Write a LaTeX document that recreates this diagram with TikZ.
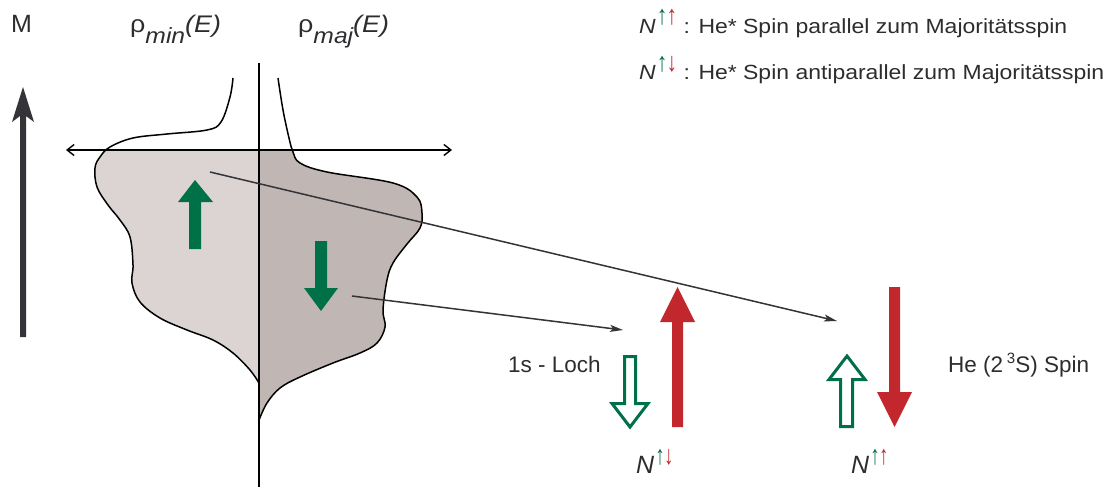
\documentclass[tikz,border=0pt]{standalone}
\usepackage{fontspec}
\usepackage{graphicx}
\setmainfont{Liberation Sans}
\newfontfamily\widefont[FakeStretch=1.12]{Liberation Sans}
\usetikzlibrary{arrows.meta}
\definecolor{spingreen}{RGB}{0,112,72}
\definecolor{spinred}{RGB}{193,39,45}
\definecolor{darkgray}{RGB}{51,51,56}
\definecolor{txtgray}{RGB}{45,45,48}
\definecolor{fillA}{RGB}{219,212,210}
\definecolor{fillB}{RGB}{192,183,180}
\newcommand{\spinsup}[2]{\kern1pt\raisebox{9pt}{\scalebox{0.7}[1]{\fontsize{27}{27}\selectfont\textcolor{spingreen}{#1}\kern-1pt\textcolor{spinred}{#2}}}}
\tikzset{
  curve/.style={line width=1.5pt, draw={RGB:red,35;green,31;blue,32}},
  axisline/.style={line width=1.4pt, draw={RGB:red,35;green,31;blue,32}},
  conn/.style={line width=1.5pt, draw=darkgray, -{Stealth[length=13pt,width=7pt,inset=3pt]}},
  greensolid/.style={fill=spingreen, draw=none},
  greenhollow/.style={fill=white, draw=spingreen, line width=3pt, line join=miter},
  redsolid/.style={fill=spinred, draw=none},
  lbl/.style={anchor=base west, inner sep=0pt, text=txtgray},
}
\begin{document}
\begin{tikzpicture}[x=1pt,y=-1pt]
\useasboundingbox (0,0) rectangle (1116,487);

% fills
\begin{scope}
\clip (0,150) rectangle (259,487);
\fill[fillA] plot[smooth, tension=0.6] coordinates {(233,78) (230,97) (221,122) (207,130) (167,134) (133,138) (110,147) (100,157) (95,168) (97,187) (108,205) (120,220) (130,237) (133,265) (132,283) (140,302) (160,318) (187,330) (213,340) (233,353) (250,370) (259,383)} -- (259,78) -- cycle;
\end{scope}
\begin{scope}
\clip (259,150) rectangle (600,487);
\fill[fillB] plot[smooth, tension=0.6] coordinates {(278,78) (283,110) (289,138) (293,152) (300,163) (327,172) (393,183) (417,197) (422,213) (420,228) (407,244) (393,263) (387,280) (383,310) (385,327) (377,343) (360,353) (333,363) (300,377) (280,388) (267,403) (259,420)} -- (259,78) -- cycle;
\end{scope}
\draw[curve] plot[smooth, tension=0.6] coordinates {(233,78) (230,97) (221,122) (207,130) (167,134) (133,138) (110,147) (100,157) (95,168) (97,187) (108,205) (120,220) (130,237) (133,265) (132,283) (140,302) (160,318) (187,330) (213,340) (233,353) (250,370) (259,383)};
\draw[curve] plot[smooth, tension=0.6] coordinates {(278,78) (283,110) (289,138) (293,152) (300,163) (327,172) (393,183) (417,197) (422,213) (420,228) (407,244) (393,263) (387,280) (383,310) (385,327) (377,343) (360,353) (333,363) (300,377) (280,388) (267,403) (259,420)};

% axes
\coordinate (vtop) at (259,63);
\coordinate (vbot) at (259,487);
\coordinate (hl) at (66,150);
\coordinate (hr) at (452,150);
\draw[axisline] (vtop) -- (vbot);
\draw[axisline, {Straight Barb[length=7pt,width=11pt]}-{Straight Barb[length=7pt,width=11pt]}] (hl) -- (hr);

% magnetisation arrow
\fill[darkgray] (20,337) -- (26,337) -- (26,116) -- (34,122) -- (23,87) -- (12,122) -- (20,116) -- cycle;
\node[lbl, font=\fontsize{25}{30}\selectfont] (M) at (11,33) {M};

% density labels
\node[lbl, font=\widefont\fontsize{24}{28}\selectfont] (rmin) at (130,33) {ρ\raisebox{-11pt}{\fontsize{22}{22}\selectfont\itshape min}\textit{(E)}};
\node[lbl, font=\widefont\fontsize{24}{28}\selectfont] (rmaj) at (298,33) {ρ\raisebox{-11pt}{\fontsize{22}{22}\selectfont\itshape maj}\textit{(E)}};

% green spin arrows in the bands
\fill[greensolid] (189,249) -- (201,249) -- (201,202) -- (213,202) -- (195,180) -- (178,202) -- (189,202) -- cycle;
\fill[greensolid] (315,241) -- (327,241) -- (327,288) -- (338,288) -- (321,311) -- (304,288) -- (315,288) -- cycle;

% connectors
\coordinate (s1) at (210,172);
\coordinate (e1) at (837,321);
\coordinate (s2) at (352,296);
\coordinate (e2) at (623,330);
\draw[conn] (s1) -- (e1);
\draw[conn] (s2) -- (e2);

% hollow green arrows
\draw[greenhollow] (624.5,356.5) -- (635.5,356.5) -- (635.5,403.5) -- (648,403.5) -- (630,427) -- (612,403.5) -- (624.5,403.5) -- cycle;
\draw[greenhollow] (840.5,426.5) -- (852.5,426.5) -- (852.5,379.5) -- (865,379.5) -- (847,356) -- (829,379.5) -- (840.5,379.5) -- cycle;

% red arrows
\fill[redsolid] (672,427) -- (683,427) -- (683,322) -- (695,322) -- (677.5,287) -- (660,322) -- (672,322) -- cycle;
\fill[redsolid] (889,287) -- (900,287) -- (900,392) -- (912,392) -- (894.5,427) -- (877,392) -- (889,392) -- cycle;

% labels bottom right
\node[lbl, font=\fontsize{22.5}{26}\selectfont] (loch) at (508,372) {1s - Loch};
\node[lbl, font=\fontsize{22.5}{26}\selectfont] (he) at (948,372) {He (2\,\raisebox{9pt}{\fontsize{15}{15}\selectfont 3}S) Spin};
\node[lbl, font=\fontsize{25}{30}\selectfont] (n1) at (636,473) {\textit{N}\spinsup{↑}{↓}};
\node[lbl, font=\fontsize{25}{30}\selectfont] (n2) at (851,473) {\textit{N}\spinsup{↑}{↑}};

% legend
\node[lbl, font=\widefont\fontsize{20.5}{24}\selectfont] (leg1) at (639,34) {\textit{N}\spinsup{↑}{↑} : He* Spin parallel zum Majoritätsspin};
\node[lbl, font=\widefont\fontsize{20.5}{24}\selectfont] (leg2) at (639,80) {\textit{N}\spinsup{↑}{↓} : He* Spin antiparallel zum Majoritätsspin};
\end{tikzpicture}
\end{document}
